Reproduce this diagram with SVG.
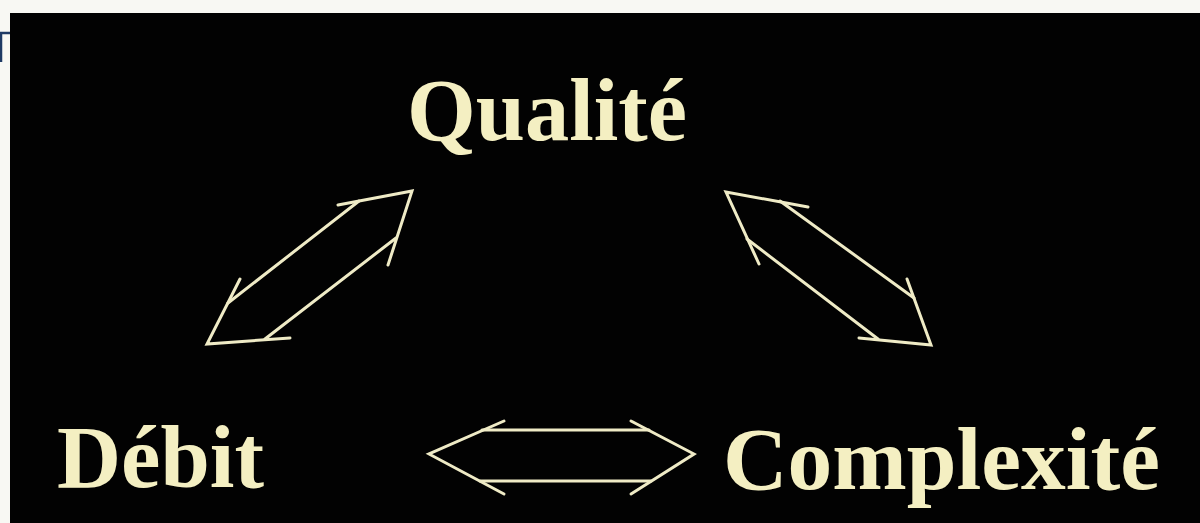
<svg xmlns="http://www.w3.org/2000/svg" width="1200" height="523" viewBox="0 0 1200 523">
  <style>
    .lbl { font-family: "Liberation Serif", "Times New Roman", serif; font-weight: bold; font-size: 89px; fill: #f4efc2; }
    .arr { fill: none; stroke: #efebc6; stroke-width: 3; stroke-linejoin: miter; stroke-linecap: round; }
  </style>
  <rect x="0" y="0" width="1200" height="523" fill="#f8f8f3"/>
  <rect x="10" y="13" width="1190" height="510" fill="#020202"/>
  <path d="M0,33 H10 M1,33 V62" fill="none" stroke="#1e3a64" stroke-width="2.5"/>

  <g id="qualite">
    <text class="lbl" x="407" y="140" textLength="280" lengthAdjust="spacingAndGlyphs">Qualité</text>
  </g>
  <g id="debit">
    <text class="lbl" x="57" y="487" textLength="207" lengthAdjust="spacingAndGlyphs">Débit</text>
  </g>
  <g id="complexite">
    <text class="lbl" x="723" y="489" textLength="437" lengthAdjust="spacingAndGlyphs">Complexité</text>
  </g>

  <g id="connectors">
    <g id="arrow-qualite-debit">
      <path class="arr" d="M338,205 L412,191 L388,265"/>
      <path class="arr" d="M240,279 L207,344 L290,338"/>
      <path class="arr" d="M228,303 L359,201 M265,339 L396,238"/>
    </g>
    <g id="arrow-qualite-complexite">
      <path class="arr" d="M808,207 L726,192 L759,264"/>
      <path class="arr" d="M907,279 L931,345 L859,338"/>
      <path class="arr" d="M780,201 L914,298 M747,239 L878,339"/>
    </g>
    <g id="arrow-debit-complexite">
      <path class="arr" d="M504,421 L429,454 L504,494"/>
      <path class="arr" d="M631,421 L694,454 L631,494"/>
      <path class="arr" d="M482,430 H649 M480,481 H651"/>
    </g>
  </g>
</svg>
